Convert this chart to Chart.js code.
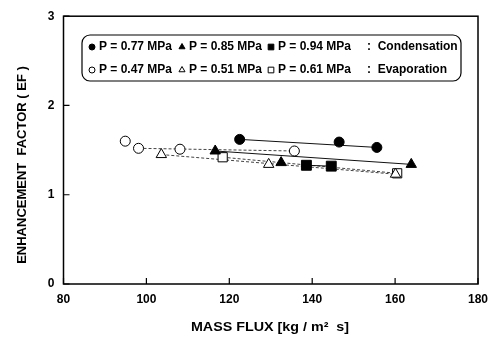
<!DOCTYPE html>
<html>
<head>
<meta charset="utf-8">
<script src="https://cdn.jsdelivr.net/npm/chart.js@4"></script>
<style>
html, body { margin: 0; padding: 0; background: #fff; }
</style>
</head>
<body>
<canvas id="efChart" width="488" height="345"></canvas>
<script>
// axis ticks
const xTicks = [80, 100, 120, 140, 160, 180];
const yTicks = [0, 1, 2, 3];

// condensation (filled symbols)
const c077X = [122.5, 146.5, 155.6];
const c077Y = [1.62, 1.59, 1.53];
const c085X = [116.6, 132.5, 163.9];
const c085Y = [1.49, 1.36, 1.34];
const c094X = [138.6, 144.6];
const c094Y = [1.33, 1.32];

// evaporation (open symbols)
const e047X = [94.9, 98.1, 108.1, 135.7];
const e047Y = [1.60, 1.52, 1.51, 1.49];
const e051X = [103.6, 129.5, 160.1];
const e051Y = [1.45, 1.34, 1.23];
const e061X = [118.4, 160.5];
const e061Y = [1.42, 1.24];

// fitted lines, end points
const f077X = [122.5, 155.6], f077Y = [1.62, 1.53];
const f085X = [116.6, 163.9], f085Y = [1.49, 1.34];
const f094X = [138.6, 144.6], f094Y = [1.33, 1.32];
const f047X = [98.1, 135.7],  f047Y = [1.52, 1.49];
const f051X = [103.6, 160.1], f051Y = [1.45, 1.23];
const f061X = [118.4, 160.5], f061Y = [1.42, 1.24];

// legend rows
const legendRow1 = ['P = 0.77 MPa', 'P = 0.85 MPa', 'P = 0.94 MPa', ':  Condensation'];
const legendRow2 = ['P = 0.47 MPa', 'P = 0.51 MPa', 'P = 0.61 MPa', ':  Evaporation'];

const FONT = '"Liberation Sans", Arial, sans-serif';

const pts = (xs, ys) => xs.map((x, i) => ({ x: x, y: ys[i] }));

const marks = (label, xs, ys, style, filled, radius) => ({
    label: label,
    data: pts(xs, ys),
    showLine: false,
    pointStyle: style,
    pointRadius: radius,
    pointBackgroundColor: filled ? '#000' : '#fff',
    pointBorderColor: '#000',
    pointBorderWidth: 1,
    order: 1
});

const fit = (xs, ys, dashed) => ({
    data: pts(xs, ys),
    showLine: true,
    borderColor: dashed ? '#444' : '#111',
    borderWidth: 1,
    borderDash: dashed ? [3, 2] : [],
    pointRadius: 0,
    order: 2
});

const ctx = document.getElementById('efChart').getContext('2d');

const markerSymbol = (c, style, filled, x, y, r) => {
    c.save();
    c.fillStyle = filled ? '#000' : '#fff';
    c.strokeStyle = '#000';
    c.lineWidth = 1;
    Chart.helpers.drawPoint(c, { pointStyle: style, radius: r, borderWidth: 1 }, x, y);
    c.restore();
};

const framePlugin = {
    id: 'frame',
    afterDraw(chart) {
        const c = chart.ctx;
        const a = chart.chartArea;
        const xs = chart.scales.x;
        const ys = chart.scales.y;
        c.save();
        c.strokeStyle = '#000';
        c.lineWidth = 1.5;
        c.strokeRect(a.left, a.top, a.right - a.left, a.bottom - a.top);

        // inward tick marks
        c.lineWidth = 1.2;
        c.beginPath();
        xTicks.forEach(v => {
            const px = xs.getPixelForValue(v);
            c.moveTo(px, a.bottom);
            c.lineTo(px, a.bottom - 6);
        });
        yTicks.forEach(v => {
            const py = ys.getPixelForValue(v);
            c.moveTo(a.left, py);
            c.lineTo(a.left + 6, py);
        });
        c.stroke();

        // axis titles
        c.fillStyle = '#000';
        c.textAlign = 'center';
        c.textBaseline = 'middle';
        c.font = 'bold 13px ' + FONT;
        c.save();
        c.translate(22, 165);
        c.rotate(-Math.PI / 2);
        c.fillText('ENHANCEMENT  FACTOR ( EF )', 0, 0);
        c.restore();
        c.save();
        c.translate(270, 327);
        c.scale(1.1, 1);
        c.fillText('MASS FLUX [kg / m\u00B2  s]', 0, 0);
        c.restore();

        // legend box
        c.lineWidth = 1.2;
        c.beginPath();
        c.roundRect(82, 35, 379, 46, 8);
        c.stroke();

        const styles = ['circle', 'triangle', 'rect'];
        const markX = [92, 182, 271];
        const textX = [99, 189, 278, 367];
        const sizes = [3, 3.5, 4];
        [[legendRow1, 47, true], [legendRow2, 70, false]].forEach(([row, y, filled]) => {
            styles.forEach((s, i) => markerSymbol(c, s, filled, markX[i], y, sizes[i]));
            c.textAlign = 'left';
            c.font = 'bold 12px ' + FONT;
            row.forEach((t, i) => {
                c.fillText(t, textX[i], y);
            });
        });
        c.restore();
    }
};

new Chart(ctx, {
    type: 'scatter',
    data: {
        datasets: [
            marks('P = 0.77 MPa', c077X, c077Y, 'circle', true, 5),
            marks('P = 0.85 MPa', c085X, c085Y, 'triangle', true, 6),
            marks('P = 0.94 MPa', c094X, c094Y, 'rect', true, 7),
            marks('P = 0.47 MPa', e047X, e047Y, 'circle', false, 5),
            marks('P = 0.51 MPa', e051X, e051Y, 'triangle', false, 6),
            marks('P = 0.61 MPa', e061X, e061Y, 'rect', false, 6.5),
            fit(f077X, f077Y, false),
            fit(f085X, f085Y, false),
            fit(f094X, f094Y, false),
            fit(f047X, f047Y, true),
            fit(f051X, f051Y, true),
            fit(f061X, f061Y, true)
        ]
    },
    options: {
        responsive: false,
        animation: false,
        layout: {
            padding: { top: 10, right: 10, left: 0, bottom: 0 }
        },
        plugins: {
            legend: { display: false },
            tooltip: { enabled: false }
        },
        scales: {
            x: {
                type: 'linear',
                min: 80,
                max: 180,
                afterBuildTicks: (scale) => { scale.ticks = xTicks.map(v => ({ value: v })); },
                afterFit: (scale) => {
                    scale.height = 61;
                    scale.paddingLeft = 0;
                    scale.paddingRight = 0;
                },
                grid: { display: false, drawTicks: false },
                border: { display: false },
                ticks: {
                    color: '#000',
                    padding: 8,
                    maxRotation: 0,
                    font: { family: FONT, size: 12, weight: 'bold' }
                }
            },
            y: {
                type: 'linear',
                min: 0,
                max: 3,
                afterBuildTicks: (scale) => { scale.ticks = yTicks.map(v => ({ value: v })); },
                afterFit: (scale) => { scale.width = 63.5; },
                grid: { display: false, drawTicks: false },
                border: { display: false },
                ticks: {
                    color: '#000',
                    padding: 9,
                    font: { family: FONT, size: 12, weight: 'bold' }
                }
            }
        }
    },
    plugins: [framePlugin]
});
</script>
</body>
</html>
